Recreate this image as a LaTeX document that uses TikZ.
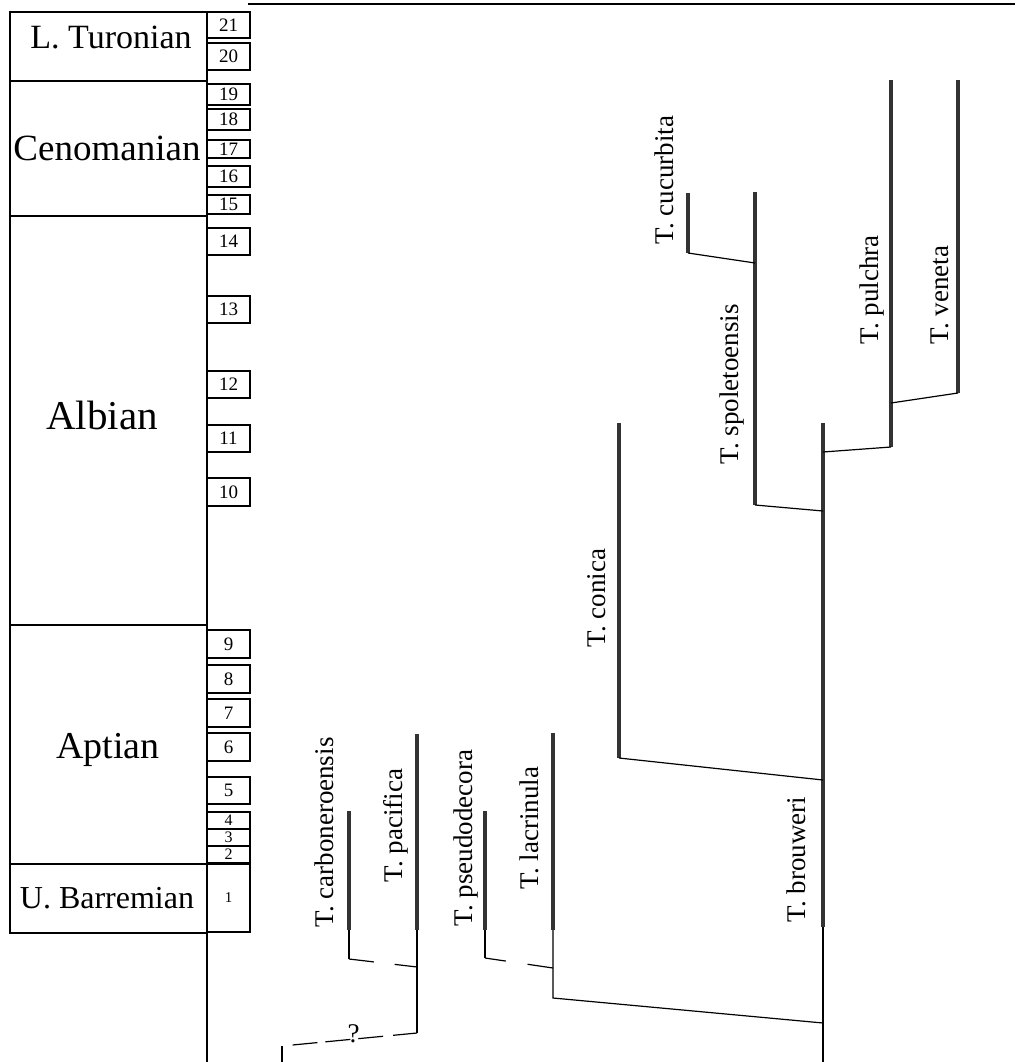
\documentclass[tikz,border=0pt]{standalone}
\usepackage{fontspec}
\setmainfont{Liberation Serif}
\begin{document}
\begin{tikzpicture}[x=1pt,y=-1pt,line width=1.2pt,
    bar/.style={line width=4pt,black!80},
    stage/.style={anchor=base,inner sep=0pt},
    taxon/.style={rotate=90,anchor=base west,inner sep=0pt,font=\fontsize{27}{27}\selectfont}]
    \useasboundingbox (0,0) rectangle (1015,1062);
    \draw (10,12) rectangle (207,933);
    \foreach \y in {81,216,625,864}
    {
        \draw (10,\y)--(207,\y);
    }
    \draw (207,12)--(207,1062);
    \draw (248,4)--(1015,4);
    \node (tur) at (111,49)[stage,font=\fontsize{34}{34}\selectfont]{L. Turonian};
    \node (cen) at (107,160)[stage,font=\fontsize{37}{37}\selectfont]{Cenomanian};
    \node (alb) at (102,429)[stage,font=\fontsize{41}{41}\selectfont]{Albian};
    \node (apt) at (108,758)[stage,font=\fontsize{38}{38}\selectfont]{Aptian};
    \node (bar) at (107,908)[stage,font=\fontsize{32}{32}\selectfont]{U. Barremian};
    \foreach \n/\t/\b/\s in {21/12/38/19,20/43/70/19,19/84/105/19,18/109/130/19,17/140/158/19,
        16/166/187/19,15/195/214/19,14/228/255/19,13/296/323/19,12/371/398/19,11/425/452/19,
        10/478/506/19,9/630/658/19,8/665/693/19,7/699/727/19,6/733/761/19,5/777/804/19,
        4/812/829/16,3/829/846/16,2/846/863/16,1/864/932/15}
    {
        \draw (207,\t) rectangle (250,\b);
        \node (z\n) at (228.5,{(\t+\b)/2})[inner sep=0pt,font=\fontsize{\s}{\s}\selectfont]{\n};
    }
    \foreach \n/\x/\t/\b in {carb/349/811/930,paci/417/734/930,pseu/485/811/930,lacr/553/733/930,
        coni/619/423/758,brou/823/423/927,spol/755/192/505,cucu/688/193/253,
        pulc/891/80/447,vene/958/80/393}
    {
        \coordinate (\n-t) at (\x,\t);
        \coordinate (\n-b) at (\x,\b);
        \draw[bar] (\n-t)--(\n-b);
    }
    \foreach \n/\x/\y/\t in {carb/333/928/carboneroensis,paci/402/883/pacifica,
        pseu/472/927/pseudodecora,lacr/538/890/lacrinula,coni/605/648/conica,
        brou/805/923/brouweri,spol/738/465/spoletoensis,cucu/673/245/cucurbita,
        pulc/878/345/pulchra,vene/948/345/veneta}
    {
        \node (\n-l) at (\x,\y)[taxon]{T. \t};
    }
    \coordinate (carb-j) at (349,959);
    \coordinate (paci-j1) at (417,967);
    \coordinate (paci-j2) at (417,1033);
    \coordinate (root) at (282,1046);
    \coordinate (root-e) at (282,1062);
    \coordinate (pseu-j) at (485,958);
    \coordinate (lacr-j1) at (553,968);
    \coordinate (lacr-j2) at (553,998);
    \coordinate (brou-j1) at (823,1023);
    \coordinate (brou-j2) at (823,780);
    \coordinate (brou-j3) at (823,511);
    \coordinate (brou-j4) at (823,452);
    \coordinate (brou-e) at (823,1062);
    \coordinate (spol-j) at (755,263);
    \coordinate (pulc-j1) at (891,447);
    \coordinate (pulc-j2) at (891,403);
    \draw (carb-b)--(carb-j);
    \draw[dash pattern=on 25pt off 21pt on 30pt] (carb-j)--(paci-j1);
    \draw (paci-b)--(paci-j2);
    \draw[dash pattern=on 24pt off 10pt on 25pt off 8pt on 25pt off 8pt on 25pt off 20pt] (paci-j2)--node[pos=.47,anchor=base,yshift=-3pt,inner sep=0pt,font=\fontsize{27}{27}\selectfont](q){?}(root);
    \draw (root)--(root-e);
    \draw (pseu-b)--(pseu-j);
    \draw[dash pattern=on 21pt off 22pt on 30pt] (pseu-j)--(lacr-j1);
    \draw (lacr-b)--(lacr-j2)--(brou-j1);
    \draw (brou-b)--(brou-e);
    \draw (coni-b)--(brou-j2);
    \draw (spol-b)--(brou-j3);
    \draw (cucu-b)--(spol-j);
    \draw (brou-j4)--(pulc-j1);
    \draw (pulc-j2)--(vene-b);
\end{tikzpicture}
\end{document}
